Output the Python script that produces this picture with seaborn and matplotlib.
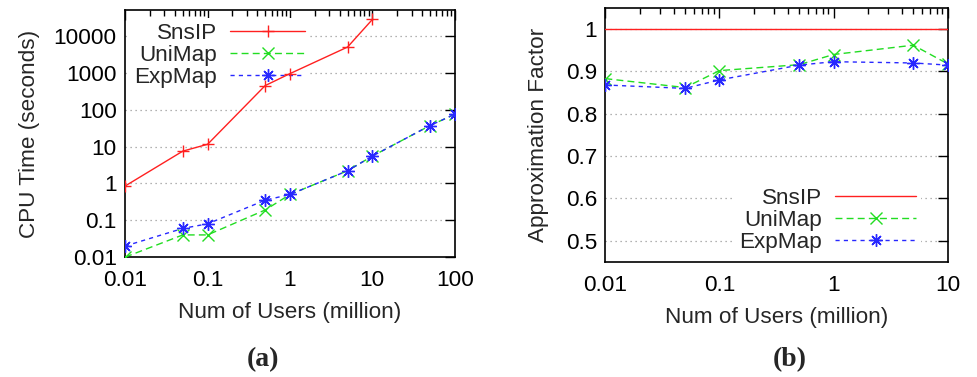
import numpy as np
import pandas as pd
import matplotlib
matplotlib.use("Agg")
import matplotlib.pyplot as plt
import seaborn as sns
from matplotlib.ticker import LogLocator, FixedLocator, FuncFormatter, NullFormatter

# panel (a) values
users_a = [0.01, 0.05, 0.1, 0.5, 1, 5, 10, 50, 100]
snsip_time = [0.85, 7.5, 11.5, 450, 950, 5000, 28000]
unimap_time = [0.01, 0.04, 0.04, 0.19, 0.5, 2.2, 5.5, 37, 75]
expmap_time = [0.02, 0.06, 0.08, 0.35, 0.5, 2.2, 5.5, 37, 75]

# panel (b) values
users_b = [0.01, 0.05, 0.1, 0.5, 1, 5, 10]
snsip_factor = [1, 1, 1, 1, 1, 1, 1]
unimap_factor = [0.883, 0.862, 0.902, 0.916, 0.94, 0.962, 0.918]
expmap_factor = [0.868, 0.860, 0.880, 0.915, 0.923, 0.920, 0.915]

sns.set_style("white")
plt.rcParams['font.family'] = ['Liberation Sans', 'DejaVu Sans']

FS = 16.2
colors = {'SnsIP': '#ff2020', 'UniMap': '#22dd22', 'ExpMap': '#2828ff'}
markers = {'SnsIP': '+', 'UniMap': 'x', 'ExpMap': (8, 2, 0)}
dashes = {'SnsIP': '-', 'UniMap': (0, (5, 3)), 'ExpMap': (0, (3, 3))}

fig = plt.figure(figsize=(9.78, 3.77), dpi=100)
ax1 = fig.add_axes([0.128, 0.318, 0.337, 0.655])
ax2 = fig.add_axes([0.619, 0.305, 0.350, 0.674])


def draw(ax, name, x, y):
    sns.lineplot(x=x, y=y, ax=ax, color=colors[name], label=name,
                 linestyle=dashes[name], linewidth=1.0,
                 marker=markers[name], markersize=9, markeredgewidth=1.0,
                 markeredgecolor=colors[name], zorder=3)


def fmt(v, pos):
    return f"{v:g}"


def style(ax):
    ax.set_xscale('log')
    ax.tick_params(which='both', direction='in', top=True, right=True,
                   labelsize=FS, colors='black')
    ax.tick_params(which='major', length=7, width=1)
    ax.tick_params(which='minor', length=4, width=1)
    ax.tick_params(axis='x', which='major', pad=9)
    ax.tick_params(axis='y', which='major', pad=6)
    ax.xaxis.set_minor_locator(LogLocator(base=10, subs=np.arange(2, 10)))
    ax.xaxis.set_minor_formatter(NullFormatter())
    ax.xaxis.set_major_formatter(FuncFormatter(fmt))
    for s in ax.spines.values():
        s.set_color('black')
        s.set_linewidth(1.2)
    ax.yaxis.grid(True, which='major', linestyle=(0, (1, 3)),
                  color='#999999', linewidth=0.9)
    ax.xaxis.grid(False)
    ax.set_axisbelow(True)


def legend(ax, hl, **kw):
    leg = ax.legend(markerfirst=False, frameon=True, framealpha=1,
                    edgecolor='white', fontsize=FS, handlelength=hl,
                    handletextpad=0.6, labelspacing=0.05, borderpad=0.2, **kw)
    leg.get_frame().set_linewidth(0)
    leg.set_zorder(1)  # above grid, below the data lines


# (a) CPU time
draw(ax1, 'SnsIP', users_a[:len(snsip_time)], snsip_time)
draw(ax1, 'UniMap', users_a, unimap_time)
draw(ax1, 'ExpMap', users_a, expmap_time)
style(ax1)
ax1.set_yscale('log')
ax1.set_xlim(0.01, 100)
ax1.set_ylim(0.01, 50000)
ax1.yaxis.set_major_locator(FixedLocator([0.01, 0.1, 1, 10, 100, 1000, 10000]))
ax1.yaxis.set_minor_locator(LogLocator(base=10, subs=np.arange(2, 10)))
ax1.yaxis.set_minor_formatter(NullFormatter())
ax1.yaxis.set_major_formatter(FuncFormatter(fmt))
ax1.xaxis.set_major_locator(FixedLocator([0.01, 0.1, 1, 10, 100]))
ax1.set_xlabel('Num of Users (million)', fontsize=FS, labelpad=8)
ax1.set_ylabel('CPU Time (seconds)', fontsize=FS, labelpad=10)
legend(ax1, 3.3, loc='upper left', bbox_to_anchor=(0.0, 0.985), borderaxespad=0.2)

# (b) approximation factor
sns.lineplot(x=users_b, y=snsip_factor, ax=ax2, color=colors['SnsIP'], label='SnsIP',
             linewidth=1.0, zorder=3)
draw(ax2, 'UniMap', users_b, unimap_factor)
draw(ax2, 'ExpMap', users_b, expmap_factor)
style(ax2)
ax2.set_xlim(0.01, 10)
ax2.set_ylim(0.45, 1.05)
ax2.xaxis.set_major_locator(FixedLocator([0.01, 0.1, 1, 10]))
ax2.set_yticks([0.5, 0.6, 0.7, 0.8, 0.9, 1])
ax2.yaxis.set_major_formatter(FuncFormatter(fmt))
ax2.set_xlabel('Num of Users (million)', fontsize=FS, labelpad=8)
ax2.set_ylabel('Approximation Factor', fontsize=FS, labelpad=12)
legend(ax2, 3.6, loc='lower right', bbox_to_anchor=(0.935, 0.0), borderaxespad=0.2)

fig.text(0.269, 0.03, '(a)', fontsize=20, fontweight='bold',
         family=['Liberation Serif', 'DejaVu Serif'], ha='center')
fig.text(0.808, 0.03, '(b)', fontsize=20, fontweight='bold',
         family=['Liberation Serif', 'DejaVu Serif'], ha='center')

fig.savefig('out.png', dpi=100)
